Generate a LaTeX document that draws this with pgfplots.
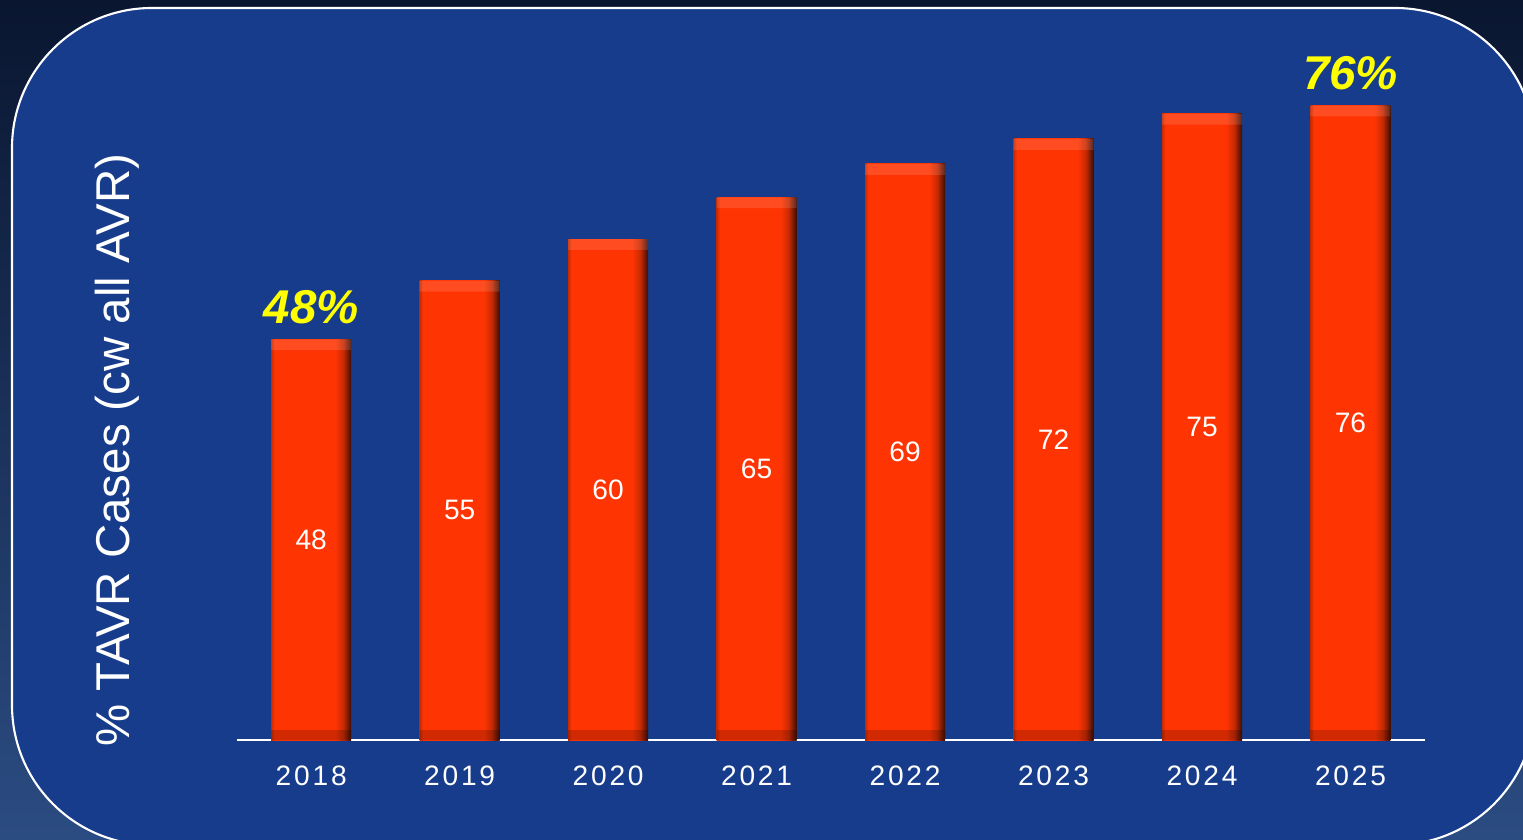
\documentclass[border=0pt]{standalone}
\usepackage{fontspec}
\setmainfont{Liberation Sans}
\usepackage{pgfplots}
\pgfplotsset{compat=1.18}
\usepackage{pgfplotstable}
\definecolor{bgtop}{HTML}{0A1630}
\definecolor{bgbot}{HTML}{2B4C82}
\definecolor{panel}{HTML}{173C8C}
\definecolor{barred}{HTML}{FF3403}
\definecolor{bardark}{HTML}{3A0E05}
\definecolor{baredge}{HTML}{C82A02}
\definecolor{yel}{HTML}{FFFF00}
\pgfdeclarehorizontalshading{barshade}{100bp}{color(0bp)=(baredge); color(25bp)=(baredge); color(27bp)=(barred); color(65bp)=(barred); color(70bp)=(baredge); color(75bp)=(bardark); color(100bp)=(bardark)}
\pgfplotstableread{
x v
0 48
1 55
2 60
3 65
4 69
5 72
6 75
7 76
}\datatable
\pgfplotsset{myaxis/.style={
  at={(4.74cm,1.98cm)}, anchor=south west,
  scale only axis, width=23.76cm, height=13.36cm,
  xmin=-0.5, xmax=7.5, ymin=0, ymax=80,
  clip=false,
}}
\begin{document}
\begin{tikzpicture}[x=0.02cm, y=0.02cm]
\clip (0,0) rectangle (1523,839);
\shade[top color=bgtop, bottom color=bgbot] (0,0) rectangle (1523,839);
\draw[white, line width=1.2pt, fill=panel, rounded corners=2.8cm] (12,-6) rectangle (1535,831);
\begin{axis}[myaxis,
  axis x line*=bottom, axis y line*=left,
  y axis line style={draw=none},
  x axis line style={white, line width=1.1pt, -},
  xtick={0,...,7},
  xticklabels={2018,2019,2020,2021,2022,2023,2024,2025},
  major tick length=0pt,
  xticklabel style={white, font=\fontsize{16}{16}\selectfont\addfontfeature{LetterSpace=10}, yshift=-11pt},
  ytick=\empty,
  ylabel={\% TAVR Cases (cw all AVR)},
  every axis y label/.style={at={(axis description cs:-0.101,0.434)}, rotate=90, anchor=center, white, font=\fontsize{27}{27}\selectfont},
  /pgf/number format/assume math mode=true,
]
\pgfplotsinvokeforeach{0,...,7}{
  \addplot[ybar, bar width=1.6cm, bar shift=0pt, draw=none, shading=barshade, restrict x to domain=#1:#1]
    table[x=x, y=v] {\datatable};
}
\addplot[draw=none, mark=none, nodes near coords, point meta=explicit,
  nodes near coords style={white, anchor=center, font=\fontsize{16}{16}\selectfont}]
  table[x=x, y expr=\thisrow{v}/2, meta=v] {\datatable};
\addplot[draw=none, mark=none, nodes near coords, point meta=explicit symbolic,
  nodes near coords style={yel, anchor=base, yshift=9pt, font=\fontsize{27}{27}\selectfont\bfseries\itshape}]
  coordinates {(0,48)[48\%] (7,76)[76\%]};
\end{axis}
\begin{axis}[myaxis, hide axis, stack plots=y]
\addplot[ybar, bar width=1.6cm, bar shift=0pt, draw=none, fill=black, fill opacity=0.18]
  table[x=x, y expr=1.2] {\datatable};
\addplot[ybar, bar width=1.6cm, bar shift=0pt, draw=none, fill=none]
  table[x=x, y expr=\thisrow{v}-2.5] {\datatable};
\addplot[ybar, bar width=1.6cm, bar shift=0pt, draw=none, fill=white, fill opacity=0.12]
  table[x=x, y expr=1.3] {\datatable};
\end{axis}
\end{tikzpicture}
\end{document}
